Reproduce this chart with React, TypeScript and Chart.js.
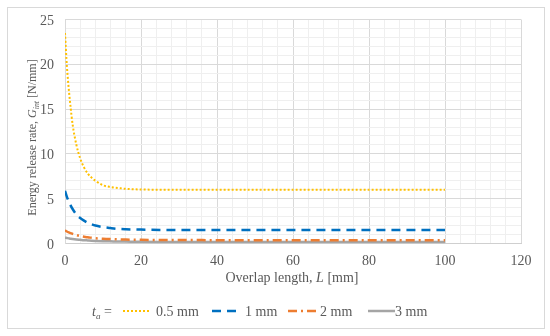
import React, { useEffect, useRef } from "react";
import { Chart, registerables } from "chart.js";

Chart.register(...registerables);

// Overlap length L [mm]
const overlapLength = [0, 0.5, 1, 1.5, 2, 3, 4, 5, 6, 7, 8, 10, 12, 14, 16, 20, 25, 30, 40, 50, 60, 70, 80, 90, 100];
// Energy release rate G_int [N/mm] for each adhesive thickness
const g05 = [23.5, 19.8, 17.2, 15.1, 13.3, 11.0, 9.5, 8.5, 7.8, 7.35, 7.0, 6.5, 6.3, 6.2, 6.1, 6.03, 6.0, 6.0, 6.0, 6.0, 6.0, 6.0, 6.0, 6.0, 6.0];
const g1 = [5.88, 5.2, 4.68, 4.23, 3.85, 3.25, 2.85, 2.55, 2.31, 2.14, 2.0, 1.83, 1.72, 1.63, 1.59, 1.55, 1.52, 1.5, 1.5, 1.5, 1.5, 1.5, 1.5, 1.5, 1.5];
const g2 = [1.47, 1.34, 1.24, 1.16, 1.075, 0.94, 0.83, 0.76, 0.69, 0.64, 0.59, 0.53, 0.49, 0.46, 0.44, 0.41, 0.39, 0.385, 0.375, 0.375, 0.375, 0.375, 0.375, 0.375, 0.375];
const g3 = [0.65, 0.61, 0.57, 0.53, 0.5, 0.45, 0.41, 0.37, 0.34, 0.31, 0.29, 0.26, 0.24, 0.22, 0.21, 0.19, 0.18, 0.175, 0.167, 0.167, 0.167, 0.167, 0.167, 0.167, 0.167];
const seriesLabels = ["0.5 mm", "1 mm", "2 mm", "3 mm"];
const xTickLabels = [0, 20, 40, 60, 80, 100, 120];
const yTickLabels = [0, 5, 10, 15, 20, 25];

const colors = ["#FFC000", "#0070C0", "#ED7D31", "#A5A5A5"];
const dashes = [[2, 2], [9, 6], [9, 4, 2, 4], []];
const widths = [2, 2.5, 2.5, 2.5];
const legendLayout = [
  { lineX: 123, lineW: 28, textX: 156 },
  { lineX: 212, lineW: 24, textX: 245 },
  { lineX: 288, lineW: 32, textX: 320 },
  { lineX: 368, lineW: 27, textX: 395 },
];

const FONT = "'Liberation Serif', 'Times New Roman', serif";
const TEXT = "#595959";

type Seg = { t: string; it?: boolean; sub?: boolean };

function richWidth(ctx: CanvasRenderingContext2D, segs: Seg[], size: number) {
  let w = 0;
  for (const s of segs) {
    const sz = s.sub ? size * 0.65 : size;
    ctx.font = `${s.it ? "italic " : ""}${sz}px ${FONT}`;
    w += ctx.measureText(s.t).width;
  }
  return w;
}

function drawRich(ctx: CanvasRenderingContext2D, segs: Seg[], x: number, y: number, size: number, align: "left" | "center" | "right") {
  const w = richWidth(ctx, segs, size);
  let cx = align === "center" ? x - w / 2 : align === "right" ? x - w : x;
  ctx.textAlign = "left";
  ctx.textBaseline = "alphabetic";
  ctx.fillStyle = TEXT;
  for (const s of segs) {
    const sz = s.sub ? size * 0.65 : size;
    ctx.font = `${s.it ? "italic " : ""}${sz}px ${FONT}`;
    ctx.fillText(s.t, cx, s.sub ? y + size * 0.22 : y);
    cx += ctx.measureText(s.t).width;
  }
}

const decorPlugin = {
  id: "decor",
  beforeDraw(chart: any) {
    const ctx = chart.ctx as CanvasRenderingContext2D;
    ctx.save();
    ctx.fillStyle = "#ffffff";
    ctx.fillRect(0, 0, chart.width, chart.height);
    ctx.strokeStyle = "#d9d9d9";
    ctx.lineWidth = 1;
    ctx.strokeRect(7.5, 7.5, 537, 321);
    ctx.restore();
  },
  afterDraw(chart: any) {
    const ctx = chart.ctx as CanvasRenderingContext2D;
    const area = chart.chartArea;
    const xs = chart.scales.x;
    const ys = chart.scales.y;
    ctx.save();
    // tick labels
    xTickLabels.forEach((v) => {
      drawRich(ctx, [{ t: String(v) }], xs.getPixelForValue(v), area.bottom + 21, 14, "center");
    });
    yTickLabels.forEach((v) => {
      drawRich(ctx, [{ t: String(v) }], area.left - 11, ys.getPixelForValue(v) + 5, 14, "right");
    });
    // x title
    drawRich(ctx, [{ t: "Overlap length, " }, { t: "L", it: true }, { t: " [mm]" }], (area.left + area.right) / 2 - 1, 282, 14, "center");
    // y title
    ctx.save();
    ctx.translate(36, (area.top + area.bottom) / 2 + 6);
    ctx.rotate(-Math.PI / 2);
    drawRich(ctx, [{ t: "Energy release rate, " }, { t: "G", it: true }, { t: "int", it: true, sub: true }, { t: " [N/mm]" }], 0, 0, 12, "center");
    ctx.restore();
    // legend
    const ly = 311;
    drawRich(ctx, [{ t: "t", it: true }, { t: "a", it: true, sub: true }, { t: " =" }], 92, ly + 5, 14, "left");
    chart.data.datasets.forEach((ds: any, i: number) => {
      const L = legendLayout[i];
      ctx.save();
      ctx.strokeStyle = ds.borderColor;
      ctx.lineWidth = ds.borderWidth;
      ctx.setLineDash(ds.borderDash || []);
      ctx.beginPath();
      ctx.moveTo(L.lineX, ly);
      ctx.lineTo(L.lineX + L.lineW, ly);
      ctx.stroke();
      ctx.restore();
      drawRich(ctx, [{ t: ds.label }], L.textX, ly + 5, 14, "left");
    });
    ctx.restore();
  },
};

export default function App() {
  const ref = useRef<HTMLCanvasElement | null>(null);
  useEffect(() => {
    if (!ref.current) return;
    const series = [g05, g1, g2, g3];
    const chart = new Chart(ref.current, {
      type: "line",
      data: {
        datasets: series.map((s, i) => ({
          label: seriesLabels[i],
          data: overlapLength.map((x, j) => ({ x, y: s[j] })),
          borderColor: colors[i],
          backgroundColor: colors[i],
          borderWidth: widths[i],
          borderDash: dashes[i],
          pointRadius: 0,
          tension: 0.4,
          cubicInterpolationMode: "monotone" as const,
          fill: false,
        })),
      },
      options: {
        animation: false,
        responsive: false,
        devicePixelRatio: 1,
        layout: { padding: { left: 0, top: 19.5, right: 29, bottom: 0 } },
        plugins: { legend: { display: false }, tooltip: { enabled: false } },
        scales: {
          x: {
            type: "linear",
            min: 0,
            max: 120,
            ticks: { stepSize: 4, autoSkip: false, display: false },
            grid: {
              drawTicks: false,
              color: (c: any) => (c.tick && Number(c.tick.value) % 20 === 0 ? "#d9d9d9" : "#efefef"),
            },
            border: { color: "#cfcfcf" },
            afterFit: (s: any) => { s.height = 92.5; },
          },
          y: {
            min: 0,
            max: 25,
            ticks: { stepSize: 1, autoSkip: false, display: false },
            grid: {
              drawTicks: false,
              color: (c: any) => (c.tick && Number(c.tick.value) % 5 === 0 ? "#d9d9d9" : "#efefef"),
            },
            border: { color: "#d9d9d9" },
            afterFit: (s: any) => { s.width = 65; },
          },
        },
      },
      plugins: [decorPlugin],
    });
    return () => chart.destroy();
  }, []);
  return (
    <div style={{ position: "absolute", left: 0, top: 0, width: 550, height: 336 }}>
      <canvas ref={ref} width={550} height={336} style={{ display: "block" }} />
    </div>
  );
}
